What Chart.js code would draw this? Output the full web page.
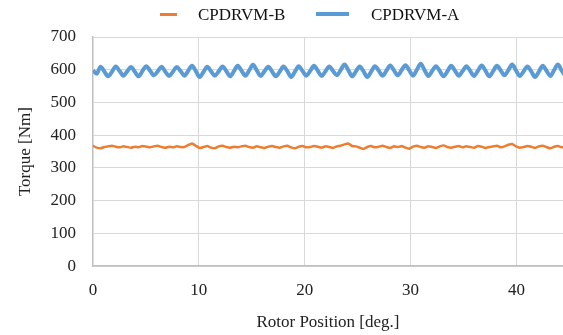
<!DOCTYPE html>
<html>
<head>
<meta charset="utf-8">
<script src="https://cdn.jsdelivr.net/npm/chart.js@4.4.1/dist/chart.umd.min.js"></script>
<style>
  html, body { margin: 0; padding: 0; background: #fff; }
  #wrap { position: relative; width: 563px; height: 335px; }
  #legend { position: absolute; left: 0; top: 0; width: 563px; height: 30px;
            font-family: "Liberation Serif", "Times New Roman", serif; font-size: 17px; color: #111; }
  #legend span { position: absolute; }
  .swatch { display: block; }
</style>
</head>
<body>
<div id="wrap">
  <canvas id="chart1" width="563" height="335"></canvas>
  <div id="legend">
    <span class="swatch" style="left:160px; top:13px; width:17px; height:3px; background:#ED7D31;"></span>
    <span style="left:198px; top:5px;">CPDRVM-B</span>
    <span class="swatch" style="left:316px; top:12px; width:33px; height:4px; background:#5B9BD5;"></span>
    <span style="left:371px; top:5px;">CPDRVM-A</span>
  </div>
</div>
<script>
// rotor position samples [deg.]
const rotorPos = [0, 0.36, 0.72, 1.08, 1.44, 1.8, 2.16, 2.52, 2.88, 3.24, 3.6, 3.96, 4.32, 4.68, 5.04, 5.4,
  5.76, 6.12, 6.48, 6.84, 7.2, 7.56, 7.92, 8.28, 8.64, 9, 9.36, 9.72, 10.08, 10.44, 10.8, 11.16, 11.52,
  11.88, 12.24, 12.6, 12.96, 13.32, 13.68, 14.04, 14.4, 14.76, 15.12, 15.48, 15.84, 16.2, 16.56, 16.92,
  17.28, 17.64, 18, 18.36, 18.72, 19.08, 19.44, 19.8, 20.16, 20.52, 20.88, 21.24, 21.6, 21.96, 22.32,
  22.68, 23.04, 23.4, 23.76, 24.12, 24.48, 24.84, 25.2, 25.56, 25.92, 26.28, 26.64, 27, 27.36, 27.72,
  28.08, 28.44, 28.8, 29.16, 29.52, 29.88, 30.24, 30.6, 30.96, 31.32, 31.68, 32.04, 32.4, 32.76, 33.12,
  33.48, 33.84, 34.2, 34.56, 34.92, 35.28, 35.64, 36, 36.36, 36.72, 37.08, 37.44, 37.8, 38.16, 38.52,
  38.88, 39.24, 39.6, 39.96, 40.32, 40.68, 41.04, 41.4, 41.76, 42.12, 42.48, 42.84, 43.2, 43.56, 43.92,
  44.28, 44.64];

// torque [Nm]
const torqueA = [598, 588, 609, 595, 580, 594, 610, 596, 582, 595, 608, 594, 580, 596, 611, 597,
  583, 595, 609, 594, 581, 594, 608, 596, 582, 597, 612, 596, 578, 593, 609, 595,
  582, 595, 610, 596, 580, 596, 612, 597, 582, 598, 615, 598, 581, 595, 609, 595,
  580, 594, 610, 596, 578, 594, 611, 596, 582, 596, 612, 597, 581, 595, 610, 596,
  583, 599, 616, 599, 580, 595, 610, 595, 578, 594, 611, 597, 582, 597, 613, 598,
  583, 599, 614, 598, 582, 600, 618, 599, 581, 596, 611, 596, 580, 595, 612, 597,
  582, 596, 611, 596, 581, 597, 613, 597, 580, 596, 612, 598, 583, 599, 616, 598,
  581, 595, 610, 595, 578, 594, 612, 597, 581, 599, 616, 597, 580];

const torqueB = [368, 362, 360, 364, 366, 368, 365, 363, 366, 364,
  362, 365, 363, 367, 365, 363, 366, 368, 364, 362,
  365, 363, 366, 364, 364, 370, 375, 368, 361, 364,
  367, 362, 360, 366, 368, 364, 362, 365, 363, 366,
  368, 364, 362, 366, 363, 361, 365, 367, 364, 362,
  366, 368, 363, 360, 365, 367, 363, 364, 367, 365,
  362, 366, 364, 361, 366, 368, 372, 375, 367, 366,
  362, 358, 364, 367, 363, 365, 368, 364, 361, 366,
  364, 367, 362, 359, 365, 368, 364, 362, 366, 364,
  361, 366, 369, 364, 362, 365, 367, 363, 366, 364,
  362, 367, 365, 361, 364, 366, 368, 363, 366, 371,
  373, 366, 362, 364, 367, 365, 361, 366, 368, 364,
  360, 365, 367, 363, 365];

const xTicks = [0, 10, 20, 30, 40];
const yTicks = [0, 100, 200, 300, 400, 500, 600, 700];

document.addEventListener('DOMContentLoaded', function() {
    const ctx = document.getElementById('chart1').getContext('2d');
    const font = { family: '"Liberation Serif", "Times New Roman", serif', size: 17 };

    const toPoints = (ys) => rotorPos.map((x, i) => ({ x: x, y: ys[i] }));

    new Chart(ctx, {
        type: 'line',
        data: {
            datasets: [{
                label: 'CPDRVM-B',
                data: toPoints(torqueB),
                borderColor: '#ED7D31',
                borderWidth: 2.5,
                pointRadius: 0,
                tension: 0.1
            }, {
                label: 'CPDRVM-A',
                data: toPoints(torqueA),
                borderColor: '#5B9BD5',
                borderWidth: 4,
                pointRadius: 0,
                cubicInterpolationMode: 'monotone'
            }]
        },
        options: {
            responsive: false,
            animation: false,
            layout: { padding: { top: 37, left: 15, right: 0, bottom: 2 } },
            plugins: {
                legend: { display: false },
                tooltip: { enabled: false }
            },
            scales: {
                x: {
                    type: 'linear',
                    min: 0,
                    max: 44.4,
                    afterBuildTicks: (axis) => { axis.ticks = xTicks.map(v => ({ value: v })); },
                    ticks: { font: font, color: '#222', padding: 14, maxRotation: 0 },
                    grid: { color: '#D9D9D9', drawTicks: false },
                    border: { color: '#BFBFBF', width: 1.5 },
                    title: { display: true, text: 'Rotor Position [deg.]', font: font, color: '#222',
                             padding: { top: -2, bottom: 0 } }
                },
                y: {
                    min: 0,
                    max: 700,
                    afterBuildTicks: (axis) => { axis.ticks = yTicks.map(v => ({ value: v })); },
                    ticks: { font: font, color: '#222', padding: 17 },
                    grid: { color: '#D9D9D9', drawTicks: false },
                    border: { color: '#BFBFBF', width: 1.5 },
                    title: { display: true, text: 'Torque [Nm]', font: font, color: '#222',
                             padding: { top: 0, bottom: -2 } }
                }
            }
        }
    });
});
</script>
</body>
</html>
